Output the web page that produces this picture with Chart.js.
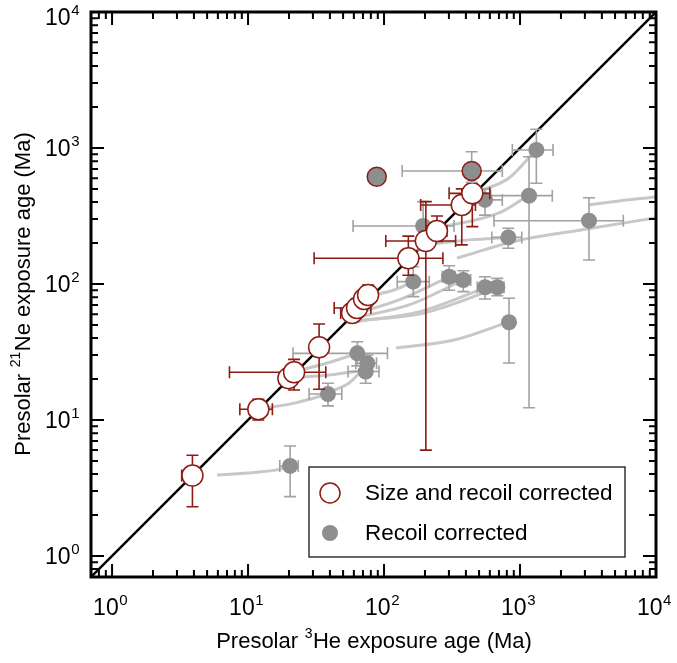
<!DOCTYPE html>
<html><head><meta charset="utf-8">
<script src="https://cdn.jsdelivr.net/npm/chart.js@4/dist/chart.umd.min.js"></script>
<style>html,body{margin:0;padding:0;background:#fff}canvas{display:block}</style>
</head><body>
<canvas id="c" width="677" height="663" style="width:677px;height:663px"></canvas>
<script>
// ---- data (Ma) ----
// size and recoil corrected (open circles)
const sizeX   = [3.9, 11.9, 19.8, 21.8, 33.3, 58.2, 63.3, 71.3, 76.3, 151, 203, 245, 373, 446];
const sizeY   = [3.9, 12.0, 20.3, 22.4, 34.2, 61.2, 66.6, 77.6, 83, 154.5, 207, 245, 381, 464];
const sizeXlo = [3.25, 8.7, 17, 7.3, 30, 48, 43, 62, 66, 30.6, 103, 205, 186, 301];
const sizeXhi = [4.5, 15.1, 23, 37.3, 37, 68, 80, 82, 88, 271, 336, 290, 470, 600];
const sizeYlo = [2.3, 10, 17.5, 16.6, 16.8, 54, 57, 68, 72, 116, 6.0, 205, 194, 264];
const sizeYhi = [5.5, 14.2, 23.5, 27.9, 50.8, 69, 78, 90, 98, 225, 403, 316, 500, 510];
// recoil corrected (filled grey)
const recX   = [20.4, 38.7, 63.6, 75.4, 73.3, 194, 553, 1319, 1165, 3215, 820, 164, 301, 383, 553, 681, 830];
const recY   = [4.59, 15.5, 30.9, 26.1, 22.7, 267, 415, 967, 446, 292, 220, 104, 113, 107, 94.6, 94.6, 52.3];
const recXlo = [17.1, 28.1, 21.4, 62, 54.4, 59.2, 387, 878, 609, 644, 620, 125, 268, 346, 485, 609, 830];
const recXhi = [23.4, 48.9, 106, 88, 91.8, 327, 741, 1749, 1727, 5750, 1030, 215, 333, 434, 626, 763, 830];
const recYlo = [2.73, 12.7, 25, 22, 18.6, 178, 321, 550, 12.3, 150, 183, 80.7, 90, 87.8, 77.6, 82, 26.2];
const recYhi = [6.44, 18.6, 37.6, 30, 26, 403, 500, 1372, 863, 431, 257, 134, 136, 125, 113, 110, 78.5];
// grains where both estimates coincide (grey with red ring)
const bothX   = [88.4, 441];
const bothY   = [615, 678];
const bothXlo = [88.4, 136];
const bothXhi = [88.4, 741];
const bothYlo = [615, 560];
const bothYhi = [615, 939];
// grey model curves, [x, y] pairs
const curves = [
  [[5.92,3.94],[11.1,4.11],[16.9,4.33],[20.4,4.59]],
  [[11.9,12.0],[21.8,13.3],[38.7,15.5]],
  [[21.1,22.5],[36.2,25.8],[63.6,30.9]],
  [[20.0,20.4],[39.4,21.4],[73.7,23.3]],
  [[40.1,16.1],[55.3,18.7],[73.7,24.9]],
  [[77.6,81.6],[118.5,90.3],[164,104]],
  [[57.2,59.2],[129,76.3],[301,112.6]],
  [[60.2,56.2],[152.7,70.1],[383,107]],
  [[61.2,52.6],[180.8,62.2],[553,93.5]],
  [[57.2,53.5],[197,61.2],[681,93.5]],
  [[122.5,33.8],[327,38.7],[830,52.6]],
  [[245,258],[701,333],[1107,436]],
  [[483,475],[830,602],[1268,935]],
  [[204,194],[422,211],[820,220]],
  [[344,155],[935,207],[2858,250],[9840,306]],
  [[3215,381],[5346,408],[9840,436]],
  [[387,368],[553,415]]
];
const axisMin = 0.7, axisMax = 10000;
const decades = [0,1,2,3,4];
const xTitle = ['Presolar ', '3', 'He exposure age (Ma)'];
const yTitle = ['Presolar ', '21', 'Ne exposure age (Ma)'];
const legendLabels = ['Size and recoil corrected', 'Recoil corrected'];

const RED = 'rgb(140,28,22)', GREY = '#8e8e8e', EGREY = '#a2a2a2', CURVE = '#c8c8c8';
const FONT = '"Liberation Sans", Arial, Helvetica, sans-serif';
const pts = (xs, ys) => xs.map((v, i) => ({x: v, y: ys[i]}));

const datasets = [];
curves.forEach((c, i) => datasets.push({
  type: 'line', label: 'curve' + i, data: c.map(p => ({x: p[0], y: p[1]})),
  borderColor: CURVE, borderWidth: 3, pointRadius: 0, tension: 0.4,
  cubicInterpolationMode: 'monotone', fill: false, order: 10
}));
datasets.push({type:'line', label:'1:1', data:[{x:axisMin,y:axisMin},{x:axisMax,y:axisMax}],
  borderColor:'#000', borderWidth:2.5, pointRadius:0, fill:false, order:9});
datasets.push({type:'scatter', label:'rec', data: pts(recX, recY), pointRadius:8,
  backgroundColor: GREY, borderWidth:0, order:3,
  err:{xs:recX, ys:recY, xlo:recXlo, xhi:recXhi, ylo:recYlo, yhi:recYhi, color:EGREY}});
datasets.push({type:'scatter', label:'size', data: pts(sizeX, sizeY), pointRadius:10.5,
  backgroundColor:'#fff', borderColor: RED, borderWidth:1.5, order:2,
  err:{xs:sizeX, ys:sizeY, xlo:sizeXlo, xhi:sizeXhi, ylo:sizeYlo, yhi:sizeYhi, color:RED}});
datasets.push({type:'scatter', label:'both', data: pts(bothX, bothY), pointRadius:9.5,
  backgroundColor: GREY, borderColor: RED, borderWidth:1.5, order:1,
  err:{xs:bothX, ys:bothY, xlo:bothXlo, xhi:bothXhi, ylo:bothYlo, yhi:bothYhi, color:EGREY}});

const errPlugin = {
  id: 'errbars',
  beforeDatasetDraw(chart, args) {
    const e = chart.data.datasets[args.index].err;
    if (!e) return;
    const X = chart.scales.x, Y = chart.scales.y, ctx = chart.ctx, a = chart.chartArea, cap = 6;
    ctx.save();
    ctx.beginPath(); ctx.rect(a.left, a.top, a.right - a.left, a.bottom - a.top); ctx.clip();
    ctx.strokeStyle = e.color; ctx.lineWidth = 1.6;
    for (let i = 0; i < e.xs.length; i++) {
      const px = X.getPixelForValue(e.xs[i]), py = Y.getPixelForValue(e.ys[i]);
      ctx.beginPath();
      if (e.xlo[i] < e.xhi[i]) {
        const l = X.getPixelForValue(e.xlo[i]), r = X.getPixelForValue(e.xhi[i]);
        ctx.moveTo(l, py); ctx.lineTo(r, py);
        ctx.moveTo(l, py - cap); ctx.lineTo(l, py + cap);
        ctx.moveTo(r, py - cap); ctx.lineTo(r, py + cap);
      }
      if (e.ylo[i] < e.yhi[i]) {
        const b = Y.getPixelForValue(e.ylo[i]), t = Y.getPixelForValue(e.yhi[i]);
        ctx.moveTo(px, b); ctx.lineTo(px, t);
        ctx.moveTo(px - cap, b); ctx.lineTo(px + cap, b);
        ctx.moveTo(px - cap, t); ctx.lineTo(px + cap, t);
      }
      ctx.stroke();
    }
    ctx.restore();
  }
};

function supText(ctx, parts, x, y, size, align, supRatio) {
  const f1 = size + 'px ' + FONT, f2 = Math.round(size * (supRatio || 0.64)) + 'px ' + FONT;
  ctx.font = f1; const w0 = ctx.measureText(parts[0]).width, w2 = ctx.measureText(parts[2] || '').width;
  ctx.font = f2; const w1 = ctx.measureText(parts[1]).width;
  const total = w0 + w1 + w2;
  let sx = align === 'center' ? x - total / 2 : (align === 'right' ? x - total : x);
  ctx.textAlign = 'left'; ctx.textBaseline = 'alphabetic';
  ctx.font = f1; ctx.fillText(parts[0], sx, y);
  ctx.font = f2; ctx.fillText(parts[1], sx + w0 + 0.5, y - size * 0.45);
  if (parts[2]) { ctx.font = f1; ctx.fillText(parts[2], sx + w0 + w1 + 1, y); }
}

const framePlugin = {
  id: 'frame',
  afterDraw(chart) {
    const ctx = chart.ctx, a = chart.chartArea, X = chart.scales.x, Y = chart.scales.y;
    ctx.save();
    ctx.fillStyle = '#000'; ctx.strokeStyle = '#000';
    ctx.lineWidth = 2;
    const ticks = [];
    for (let e = -1; e <= 4; e++) for (let m = 1; m <= 9; m++) {
      const v = m * Math.pow(10, e);
      if (v >= axisMin - 1e-9 && v <= axisMax + 1e-9) ticks.push({v, major: m === 1});
    }
    ctx.beginPath();
    ticks.forEach(t => {
      const L = t.major ? 13 : 7;
      const px = X.getPixelForValue(t.v), py = Y.getPixelForValue(t.v);
      ctx.moveTo(px, a.bottom); ctx.lineTo(px, a.bottom - L);
      ctx.moveTo(px, a.top); ctx.lineTo(px, a.top + L);
      ctx.moveTo(a.left, py); ctx.lineTo(a.left + L, py);
      ctx.moveTo(a.right, py); ctx.lineTo(a.right - L, py);
    });
    ctx.stroke();
    ctx.lineWidth = 3;
    ctx.strokeRect(a.left, a.top, a.right - a.left, a.bottom - a.top);
    decades.forEach(e => {
      const v = Math.pow(10, e);
      const px = X.getPixelForValue(v);
      supText(ctx, ['10', String(e), ''], px - 2, 615, 23, 'center', 0.66);
      let py = Y.getPixelForValue(v);
      if (py < 17) py = 17;
      supText(ctx, ['10', String(e), ''], 79, py + 8, 23, 'right', 0.66);
    });
    supText(ctx, xTitle, (a.left + a.right) / 2, 648, 22, 'center');
    ctx.save();
    ctx.translate(30, (a.top + a.bottom) / 2);
    ctx.rotate(-Math.PI / 2);
    supText(ctx, yTitle, 0, 0, 22, 'center');
    ctx.restore();
    const lx = 309, ly = 467, lw = 316, lh = 90;
    ctx.fillStyle = '#fff'; ctx.fillRect(lx, ly, lw, lh);
    ctx.lineWidth = 1.2; ctx.strokeStyle = '#000'; ctx.strokeRect(lx, ly, lw, lh);
    ctx.beginPath(); ctx.arc(lx + 21, ly + 26, 10, 0, Math.PI * 2);
    ctx.fillStyle = '#fff'; ctx.fill(); ctx.lineWidth = 1.5; ctx.strokeStyle = RED; ctx.stroke();
    ctx.beginPath(); ctx.arc(lx + 21, ly + 66, 8, 0, Math.PI * 2);
    ctx.fillStyle = GREY; ctx.fill();
    ctx.fillStyle = '#000'; ctx.font = '22.5px ' + FONT; ctx.textAlign = 'left'; ctx.textBaseline = 'middle';
    ctx.fillText(legendLabels[0], lx + 56, ly + 27);
    ctx.fillText(legendLabels[1], lx + 56, ly + 67);
    ctx.restore();
  }
};

new Chart(document.getElementById('c'), {
  data: {datasets},
  options: {
    responsive: false, animation: false, devicePixelRatio: 1,
    layout: {padding: {left: 91, top: 12, right: 21, bottom: 86}},
    scales: {
      x: {type: 'logarithmic', min: axisMin, max: axisMax, display: false},
      y: {type: 'logarithmic', min: axisMin, max: axisMax, display: false}
    },
    plugins: {legend: {display: false}, tooltip: {enabled: false}}
  },
  plugins: [errPlugin, framePlugin]
});
</script>
</body></html>
